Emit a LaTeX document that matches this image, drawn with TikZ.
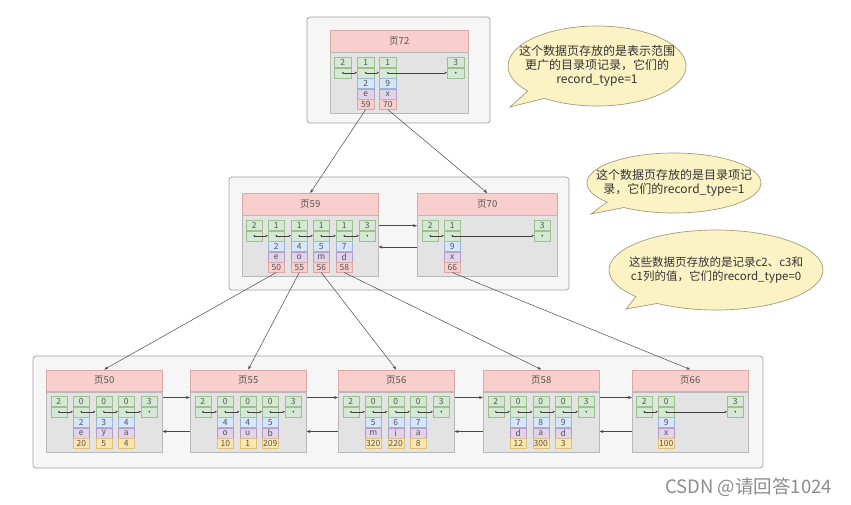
\documentclass[tikz,border=0pt]{standalone}
\usepackage{fontspec}
\setmainfont{Noto Sans CJK SC}
\usetikzlibrary{arrows.meta,shapes.callouts,calc}
\definecolor{gfill}{HTML}{D5E8D4}\definecolor{gdraw}{HTML}{9CC08E}
\definecolor{bfill}{HTML}{D6E6FC}\definecolor{bdraw}{HTML}{9DB6DB}
\definecolor{vfill}{HTML}{E1D3EA}\definecolor{vdraw}{HTML}{B59DC4}
\definecolor{pfill}{HTML}{F8CFCD}\definecolor{pdraw}{HTML}{D9A9A6}
\definecolor{yfill}{HTML}{FDE6AE}\definecolor{ydraw}{HTML}{DCC27C}
\definecolor{bodyfill}{HTML}{E3E3E3}\definecolor{bodydraw}{HTML}{B8B8B8}
\definecolor{grpfill}{HTML}{F6F6F6}\definecolor{grpdraw}{HTML}{A0A0A0}
\definecolor{bubfill}{HTML}{FBF3C4}\definecolor{bubdraw}{HTML}{A39C7C}
\definecolor{txt}{HTML}{555555}
\definecolor{linec}{HTML}{4A4A4A}
\def\cw{16pt}\def\ch{10pt}
\tikzset{
 cellbase/.style={draw, line width=0.5pt, minimum width=\cw, minimum height=\ch, inner sep=0pt, font=\fontsize{8.5}{8.5}\selectfont, text=txt},
 gcell/.style={cellbase, fill=gfill, draw=gdraw},
 bcell/.style={cellbase, fill=bfill, draw=bdraw},
 vcell/.style={cellbase, fill=vfill, draw=vdraw},
 pcell/.style={cellbase, fill=pfill, draw=pdraw},
 ycell/.style={cellbase, fill=yfill, draw=ydraw},
 hdr/.style={draw=pdraw, fill=pfill, line width=0.5pt, inner sep=0pt, anchor=north west, font=\fontsize{9.5}{10}\selectfont, text=txt},
 pbody/.style={draw=bodydraw, fill=bodyfill, line width=0.5pt, inner sep=0pt},
 grp/.style={draw=grpdraw, fill=grpfill, rounded corners=3pt, line width=0.7pt},
 ra/.style={draw=black!75, line width=0.45pt, -{Stealth[length=2.6pt,width=2.2pt]}},
 link/.style={draw=linec, line width=0.5pt, -{Stealth[length=4pt,width=3pt]}},
 bub/.style={ellipse callout, draw=bubdraw, fill=bubfill, line width=0.7pt, inner sep=0pt},
 bubtext/.style={align=center, font=\fontsize{12}{14}\selectfont, text=black!80, inner sep=0pt},
}
\newcommand\mypage[6]{% name, x, y, width, title, body height
 \node[hdr, minimum width=#4pt, minimum height=21.5pt] (#1h) at (#2,#3) {#5};
 \node[pbody, minimum width=#4pt, minimum height=#6pt, anchor=north] (#1b) at (#1h.south) {};
}
\newcommand\grec[4]{% name, x, y, number
 \node[gcell, anchor=north west] (#1t) at (#2,#3) {#4};
 \node[gcell, anchor=north] (#1p) at (#1t.south) {};
 \fill[black!75] (#1p.center) circle (0.9pt);
}
\newcommand\drec[8]{% name, x, y, number, a, b, c, style of c
 \grec{#1}{#2}{#3}{#4}
 \node[bcell, anchor=north] (#1a) at (#1p.south) {#5};
 \node[vcell, anchor=north] (#1b) at (#1a.south) {#6};
 \node[#8, anchor=north] (#1c) at (#1b.south) {#7};
}
\begin{document}
\begin{tikzpicture}[x=1pt,y=-1pt]
\fill[white] (0,0) rectangle (851,504);
\useasboundingbox (0,0) rectangle (851,504);

% group boxes
\draw[grp] (307,17) rectangle (490,123);
\draw[grp] (229,177) rectangle (569,290);
\draw[grp] (33,356) rectangle (763,468);

% ---------- page 72 ----------
\mypage{p72}{330}{30}{138}{页72}{61}
\def\cw{17pt}
\grec{a72i}{334}{57}{2}
\drec{a72r1}{357}{57}{1}{2}{e}{59}{pcell}
\drec{a72r2}{379}{57}{1}{9}{x}{70}{pcell}
\grec{a72s}{447}{57}{3}
\draw[ra] (a72ip.center) -- (a72r1p.west);
\draw[ra] (a72r1p.center) -- (a72r2p.west);
\draw[ra] (a72r2p.center) -- (a72sp.west);
\def\cw{16pt}

% ---------- page 59 ----------
\mypage{p59}{242}{193}{136}{页59}{61}
\grec{a59i}{246}{220}{2}
\drec{a59r1}{268}{220}{1}{2}{e}{50}{pcell}
\drec{a59r2}{291}{220}{1}{4}{o}{55}{pcell}
\drec{a59r3}{313}{220}{1}{5}{m}{56}{pcell}
\drec{a59r4}{336}{220}{1}{7}{d}{58}{pcell}
\grec{a59s}{359}{220}{3}
\draw[ra] (a59ip.center) -- (a59r1p.west);
\draw[ra] (a59r1p.center) -- (a59r2p.west);
\draw[ra] (a59r2p.center) -- (a59r3p.west);
\draw[ra] (a59r3p.center) -- (a59r4p.west);
\draw[ra] (a59r4p.center) -- (a59sp.west);

% ---------- page 70 ----------
\mypage{p70}{417}{193}{140}{页70}{61}
\grec{a70i}{422}{220}{2}
\drec{a70r1}{444}{220}{1}{9}{x}{66}{pcell}
\grec{a70s}{534}{220}{3}
\draw[ra] (a70ip.center) -- (a70r1p.west);
\draw[ra] (a70r1p.center) -- (a70sp.west);

\draw[link] ([yshift=-10.7pt]p59b.north east) -- ([yshift=-10.7pt]p70b.north west);
\draw[link] ([yshift=-32pt]p70b.north west) -- ([yshift=-32pt]p59b.north east);

% ---------- bottom pages ----------
\mypage{p50}{46}{369.5}{116}{页50}{60.5}
\grec{a50i}{50.5}{396}{2}
\drec{a50r1}{73}{396}{0}{2}{e}{20}{ycell}
\drec{a50r2}{95.5}{396}{0}{3}{y}{5}{ycell}
\drec{a50r3}{118}{396}{0}{4}{a}{4}{ycell}
\grec{a50s}{141}{396}{3}
\draw[ra] (a50ip.center) -- (a50r1p.west);
\draw[ra] (a50r1p.center) -- (a50r2p.west);
\draw[ra] (a50r2p.center) -- (a50r3p.west);
\draw[ra] (a50r3p.center) -- (a50sp.west);

\mypage{p55}{190}{369.5}{116}{页55}{60.5}
\grec{a55i}{194.5}{396}{2}
\drec{a55r1}{217}{396}{0}{4}{o}{10}{ycell}
\drec{a55r2}{239.5}{396}{0}{4}{u}{1}{ycell}
\drec{a55r3}{262}{396}{0}{5}{b}{209}{ycell}
\grec{a55s}{285}{396}{3}
\draw[ra] (a55ip.center) -- (a55r1p.west);
\draw[ra] (a55r1p.center) -- (a55r2p.west);
\draw[ra] (a55r2p.center) -- (a55r3p.west);
\draw[ra] (a55r3p.center) -- (a55sp.west);

\mypage{p56}{338}{369.5}{116}{页56}{60.5}
\grec{a56i}{342.5}{396}{2}
\drec{a56r1}{365}{396}{0}{5}{m}{320}{ycell}
\drec{a56r2}{387.5}{396}{0}{6}{i}{220}{ycell}
\drec{a56r3}{410}{396}{0}{7}{a}{8}{ycell}
\grec{a56s}{433}{396}{3}
\draw[ra] (a56ip.center) -- (a56r1p.west);
\draw[ra] (a56r1p.center) -- (a56r2p.west);
\draw[ra] (a56r2p.center) -- (a56r3p.west);
\draw[ra] (a56r3p.center) -- (a56sp.west);

\mypage{p58}{483}{369.5}{116}{页58}{60.5}
\grec{a58i}{487.5}{396}{2}
\drec{a58r1}{510}{396}{0}{7}{d}{12}{ycell}
\drec{a58r2}{532.5}{396}{0}{8}{a}{300}{ycell}
\drec{a58r3}{555}{396}{0}{9}{d}{3}{ycell}
\grec{a58s}{578}{396}{3}
\draw[ra] (a58ip.center) -- (a58r1p.west);
\draw[ra] (a58r1p.center) -- (a58r2p.west);
\draw[ra] (a58r2p.center) -- (a58r3p.west);
\draw[ra] (a58r3p.center) -- (a58sp.west);

\mypage{p66}{632}{369.5}{116}{页66}{60.5}
\grec{a66i}{636}{396}{2}
\drec{a66r1}{658}{396}{0}{9}{x}{100}{ycell}
\grec{a66s}{727}{396}{3}
\draw[ra] (a66ip.center) -- (a66r1p.west);
\draw[ra] (a66r1p.center) -- (a66sp.west);

% page-to-page links
\foreach \a/\b in {p50/p55,p55/p56,p56/p58,p58/p66}{
 \draw[link] ([yshift=-6pt]\a b.north east) -- ([yshift=-6pt]\b b.north west);
 \draw[link] ([yshift=-40pt]\b b.north west) -- ([yshift=-40pt]\a b.north east);
}

% tree links
\draw[link] (a72r1c.south) -- (p59h.north);
\draw[link] (a72r2c.south) -- (p70h.north);
\draw[link] (a59r1c.south) -- (p50h.north);
\draw[link] (a59r2c.south) -- (p55h.north);
\draw[link] (a59r3c.south) -- (p56h.north);
\draw[link] (a59r4c.south) -- (p58h.north);
\draw[link] (a70r1c.south) -- (p66h.north);

% callouts
\coordinate (t1) at (510,107);
\node[bub, minimum width=178pt, minimum height=80pt, callout absolute pointer=(t1)] (c1) at (597,66) {};
\node[bubtext] (c1t) at (c1.center) {这个数据页存放的是表示范围\\更广的目录项记录，它们的\\record\_type=1};
\coordinate (t2) at (591,214);
\node[bub, minimum width=174pt, minimum height=60pt, callout absolute pointer=(t2)] (c2) at (674,183) {};
\node[bubtext] (c2t) at (c2.center) {这个数据页存放的是目录项记\\录，它们的record\_type=1};
\coordinate (t3) at (626,309);
\node[bub, minimum width=214pt, minimum height=80pt, callout absolute pointer=(t3)] (c3) at (716,270) {};
\node[bubtext, font=\fontsize{11.5}{13.5}\selectfont] (c3t) at (c3.center) {这些数据页存放的是记录c2、c3和\\c1列的值，它们的record\_type=0};

% watermark
\node[anchor=west, font=\fontsize{18.5}{18.5}\selectfont, text=black!45, inner sep=0pt] (wm) at (665,487) {CSDN @请回答1024};
\end{tikzpicture}
\end{document}
